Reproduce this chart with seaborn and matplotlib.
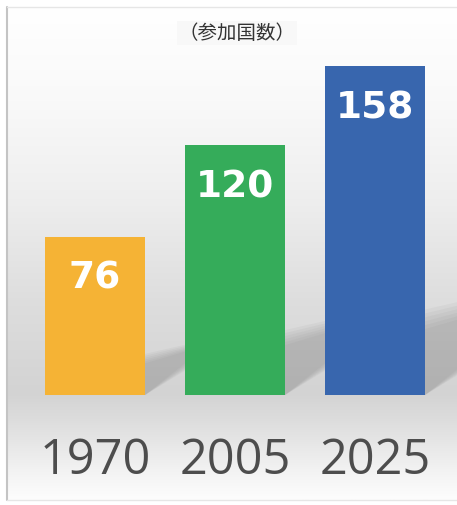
import numpy as np
import matplotlib
matplotlib.use("Agg")
import matplotlib.pyplot as plt
from matplotlib.colors import LinearSegmentedColormap
from matplotlib.patches import Polygon
from matplotlib.lines import Line2D
import seaborn as sns
import pandas as pd

# ---- data ----
years = ["1970", "2005", "2025"]
countries = [76, 120, 158]
bar_colors = ["#F5B335", "#35AC5A", "#3866AE"]
title = "（参加国数）"

sns.set_theme(style="white")
plt.rcParams["font.family"] = ["Noto Sans CJK JP", "DejaVu Sans"]

W, H = 457, 505
fig = plt.figure(figsize=(W / 100, H / 100), dpi=100)
fig.patch.set_facecolor("white")

# ---- gradient panel background ----
bg = fig.add_axes([7 / W, 5 / H, 450 / W, 493 / H])
stops = [(0.0, "#ffffff"), (0.19, "#f9f9f9"), (0.39, "#eeeeee"), (0.59, "#dedede"),
         (0.785, "#d3d3d3"), (0.836, "#dcdcdc"), (0.94, "#f2f2f2"), (1.0, "#fdfdfd")]
cmap = LinearSegmentedColormap.from_list("panel", stops)
grad = np.linspace(0, 1, 256).reshape(-1, 1)
bg.imshow(grad, aspect="auto", cmap=cmap, extent=[0, 1, 0, 1], origin="upper")
bg.set_axis_off()

# panel border: left edge plus faint top/bottom
fig.lines.append(Line2D([7 / W, 7 / W], [5 / H, 498 / H], transform=fig.transFigure,
                        color="#c4c4c4", linewidth=1.5))
for yy in (5 / H, 498 / H):
    fig.lines.append(Line2D([7 / W, 1], [yy, yy], transform=fig.transFigure,
                            color="#e6e6e6", linewidth=1))

# ---- bars ----
ax = fig.add_axes([0, 110 / H, 1, 355 / H])
ax.set_facecolor("none")
df = pd.DataFrame({"year": years, "count": countries})
sns.barplot(data=df, x="year", y="count", hue="year", palette=bar_colors,
            width=0.714, saturation=1, legend=False, linewidth=0, ax=ax, zorder=3)
ax.set_xlim(-0.679, 2.586)
ax.set_ylim(0, 170.7)

# soft floor shadows to the right of each bar (layered to fake a blur)
bars = list(ax.patches)
for patch, v in zip(bars, countries):
    r = patch.get_x() + patch.get_width()
    sh = 0.2 * v
    for k in range(6):
        g = 1.0 + 0.06 * k
        poly = Polygon([(r, 0), (r, sh * g), (r + 0.3 * g, sh * g + 6),
                        (r + 0.3 * g, 16)], closed=True, facecolor="#7a7a7a",
                       edgecolor="none", alpha=0.07, zorder=2)
        ax.add_patch(poly)

for patch, v in zip(bars, countries):
    ax.annotate(str(v), (patch.get_x() + patch.get_width() / 2, v),
                xytext=(0, -42), textcoords="offset pixels", ha="center", va="center",
                color="white", fontsize=27, fontweight="bold", family="DejaVu Sans", zorder=4)

ax.set_xlabel("")
ax.set_ylabel("")
ax.set_yticks([])
ax.tick_params(axis="x", length=0, pad=30, labelsize=35, labelcolor="#4d4d4d")
for lab in ax.get_xticklabels():
    lab.set_family(["Open Sans", "DejaVu Sans"])
for s in ax.spines.values():
    s.set_visible(False)

fig.text(237 / W, 1 - 33 / H, title, ha="center", va="center", fontsize=14, color="#333333",
         bbox=dict(boxstyle="square,pad=0.1", facecolor="#f8f8f8", edgecolor="none"))

fig.savefig("out.png", dpi=100, facecolor="white")
